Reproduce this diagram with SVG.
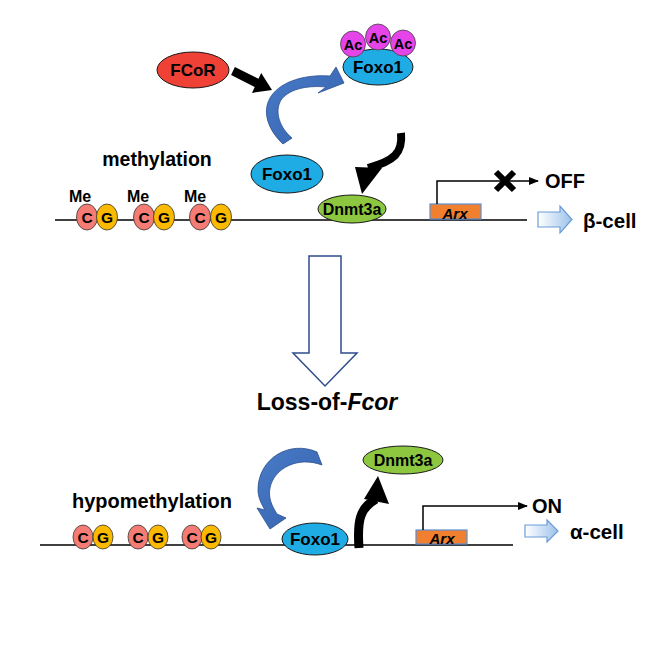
<svg xmlns="http://www.w3.org/2000/svg" width="664" height="664" viewBox="0 0 664 664">
<defs>
<linearGradient id="openArrow" x1="0" y1="0" x2="1" y2="0">
<stop offset="0" stop-color="#ffffff"/>
<stop offset="1" stop-color="#9cc2ea"/>
</linearGradient>
<linearGradient id="blueArc" x1="0" y1="0" x2="1" y2="1">
<stop offset="0" stop-color="#4a7cc8"/>
<stop offset="1" stop-color="#3360ad"/>
</linearGradient>
<marker id="thinHead" markerWidth="10" markerHeight="10" refX="9" refY="5" orient="auto" markerUnits="userSpaceOnUse">
<path d="M0,1 L10,5 L0,9 Z" fill="#000"/>
</marker>
</defs>
<style>
text{font-family:"Liberation Sans",Arial,sans-serif;font-weight:bold;fill:#000;}
.mid{text-anchor:middle;}
.dna{stroke:#000;stroke-width:1.5;fill:none;}
.foxo{fill:#1fabe3;stroke:#1a1a1a;stroke-width:1;}
.dnmt{fill:#8dc63f;stroke:#1a1a1a;stroke-width:1;}
.ac{fill:#e544e8;stroke:#444;stroke-width:0.8;}
.c{fill:#f47c74;stroke:#333;stroke-width:0.8;}
.g{fill:#fbb900;stroke:#333;stroke-width:0.8;}
.arx{fill:#f07f2f;stroke:#5b8fd6;stroke-width:1.2;}
.open{fill:url(#openArrow);stroke:#6b9bd8;stroke-width:1.2;}
.blue{fill:url(#blueArc);stroke:#2b4f8f;stroke-width:0.8;}
.prom{stroke:#000;stroke-width:1.5;fill:none;}
.cg{font-size:15.5px;}
</style>

<!-- DNA lines -->
<g id="dna-top"><line class="dna" x1="55" y1="220" x2="527" y2="220"/></g>
<g id="dna-bottom"><line class="dna" x1="40" y1="545" x2="513" y2="545"/></g>

<!-- Top section -->
<g id="fcor">
<ellipse cx="193" cy="70" rx="36" ry="18" fill="#ef4136" stroke="#1a1a1a" stroke-width="1"/>
<text class="mid" x="193" y="76" font-size="17">FCoR</text>
</g>

<g id="foxo1-acetyl">
<ellipse class="foxo" cx="378" cy="67" rx="35" ry="18"/>
<ellipse class="ac" cx="353" cy="44" rx="12.5" ry="13"/>
<ellipse class="ac" cx="378" cy="37" rx="12.5" ry="13"/>
<ellipse class="ac" cx="403" cy="43" rx="12.5" ry="13"/>
<text class="mid" x="353" y="50" font-size="14.5">Ac</text>
<text class="mid" x="378" y="43" font-size="14.5">Ac</text>
<text class="mid" x="403" y="49" font-size="14.5">Ac</text>
<text class="mid" x="378" y="73" font-size="17">Foxo1</text>
</g>

<g id="foxo1-top">
<ellipse class="foxo" cx="287" cy="174" rx="36" ry="19"/>
<text class="mid" x="287" y="180" font-size="17">Foxo1</text>
</g>

<g id="methylation-label"><text class="mid" x="157" y="166" font-size="19.5">methylation</text></g>

<g id="cg-top">
<ellipse class="c" cx="87" cy="217" rx="10.5" ry="13"/>
<ellipse class="g" cx="107" cy="217" rx="10.5" ry="13"/>
<ellipse class="c" cx="144" cy="217" rx="10.5" ry="13"/>
<ellipse class="g" cx="164" cy="217" rx="10.5" ry="13"/>
<ellipse class="c" cx="200" cy="217" rx="10.5" ry="13"/>
<ellipse class="g" cx="221" cy="217" rx="10.5" ry="13"/>
<text class="mid cg" x="87" y="223">C</text>
<text class="mid cg" x="107" y="223">G</text>
<text class="mid cg" x="144" y="223">C</text>
<text class="mid cg" x="164" y="223">G</text>
<text class="mid cg" x="200" y="223">C</text>
<text class="mid cg" x="221" y="223">G</text>
<text class="mid" x="80" y="202" font-size="16">Me</text>
<text class="mid" x="138" y="202" font-size="16">Me</text>
<text class="mid" x="195" y="202" font-size="16">Me</text>
</g>

<g id="dnmt3a-top">
<ellipse class="dnmt" cx="352" cy="209" rx="34" ry="14"/>
<text class="mid" x="352" y="215" font-size="16">Dnmt3a</text>
</g>

<g id="arx-top">
<rect class="arx" x="430" y="204" width="51" height="15"/>
<text class="mid" x="455" y="219" font-size="15" font-style="italic">Arx</text>
</g>

<g id="off-label"><text x="545" y="188" font-size="20">OFF</text></g>
<g id="beta-cell"><text x="583" y="228" font-size="20.5">β-cell</text></g>

<!-- Big transition arrow -->
<g id="transition-arrow">
<path d="M309,256 L341,256 L341,353 L357,353 L325,386 L293,353 L309,353 Z" fill="#fff" stroke="#2f4c8c" stroke-width="1.5"/>
</g>
<g id="loss-label"><text class="mid" x="327" y="410" font-size="23">Loss-of-<tspan font-style="italic">Fcor</tspan></text></g>

<!-- Bottom section -->
<g id="hypomethylation-label"><text class="mid" x="152" y="508" font-size="20">hypomethylation</text></g>

<g id="cg-bottom">
<ellipse class="c" cx="83" cy="537" rx="10" ry="12"/>
<ellipse class="g" cx="103" cy="537" rx="10" ry="12"/>
<ellipse class="c" cx="138" cy="537" rx="10" ry="12"/>
<ellipse class="g" cx="158" cy="537" rx="10" ry="12"/>
<ellipse class="c" cx="192" cy="537" rx="10" ry="12"/>
<ellipse class="g" cx="211" cy="537" rx="10" ry="12"/>
<text class="mid cg" x="83" y="543">C</text>
<text class="mid cg" x="103" y="543">G</text>
<text class="mid cg" x="138" y="543">C</text>
<text class="mid cg" x="158" y="543">G</text>
<text class="mid cg" x="192" y="543">C</text>
<text class="mid cg" x="211" y="543">G</text>
</g>

<g id="foxo1-bottom">
<ellipse class="foxo" cx="315" cy="539" rx="33" ry="16"/>
<text class="mid" x="315" y="545" font-size="17">Foxo1</text>
</g>

<g id="dnmt3a-bottom">
<ellipse class="dnmt" cx="403" cy="460" rx="40" ry="14"/>
<text class="mid" x="403" y="466" font-size="16">Dnmt3a</text>
</g>

<g id="arx-bottom">
<rect class="arx" x="416" y="530" width="51" height="14"/>
<text class="mid" x="442" y="544" font-size="15" font-style="italic">Arx</text>
</g>

<g id="on-label"><text x="532" y="513" font-size="20">ON</text></g>
<g id="alpha-cell"><text x="570" y="539" font-size="20.5">α-cell</text></g>

<!-- Connectors -->
<g id="connectors">
<!-- FCoR black block arrow -->
<path d="M234.9,66.9 L258.5,78.8 L261.2,72.9 L272,90 L252,92.9 L254.7,87 L231.1,75.1 Z" fill="#000"/>
<!-- top blue curved arrow -->
<path class="blue" d="M283,144 C268,130 262,112 270,98 C278,84 300,74 330,76 L336,67 L344,83 L318,93 L326,87 C305,85 288,90 281,100 C274,112 280,128 292,138 Z"/>
<!-- top black wavy arrow to Dnmt3a -->
<path d="M401,133 C403,153 394,161 368,168" stroke="#000" stroke-width="8" fill="none"/>
<path d="M355,167 L382,168 L362,194 Z" fill="#000"/>
<!-- top promoter arrow -->
<path class="prom" d="M437,204 L437,181 L538,181" marker-end="url(#thinHead)"/>
<!-- X mark -->
<path d="M496,172 L514,190 M514,172 L496,190" stroke="#000" stroke-width="6" stroke-linecap="butt"/>
<!-- top open arrow -->
<path class="open" d="M538,212 L560,212 L560,206 L572,219.5 L560,233 L560,227 L538,227 Z"/>
<!-- bottom blue curved arrow -->
<path class="blue" d="M317,452 C290,440 258,458 258,490 C258,498 262,505 265,510 L257,508 L270,529 L286,518 L277,514 C272,506 268,498 270,488 C274,468 298,456 322,465 Z"/>
<!-- bottom black wavy arrow up to Dnmt3a -->
<path d="M359,548 C357,520 360,508 376,499" stroke="#000" stroke-width="9" fill="none"/>
<path d="M364,499 L389,504 L378,476 Z" fill="#000"/>
<!-- bottom promoter arrow -->
<path class="prom" d="M423,530 L423,506 L527,506" marker-end="url(#thinHead)"/>
<!-- bottom open arrow -->
<path class="open" d="M525,525 L547,525 L547,520 L558,531 L547,542 L547,537 L525,537 Z"/>
</g>
</svg>
